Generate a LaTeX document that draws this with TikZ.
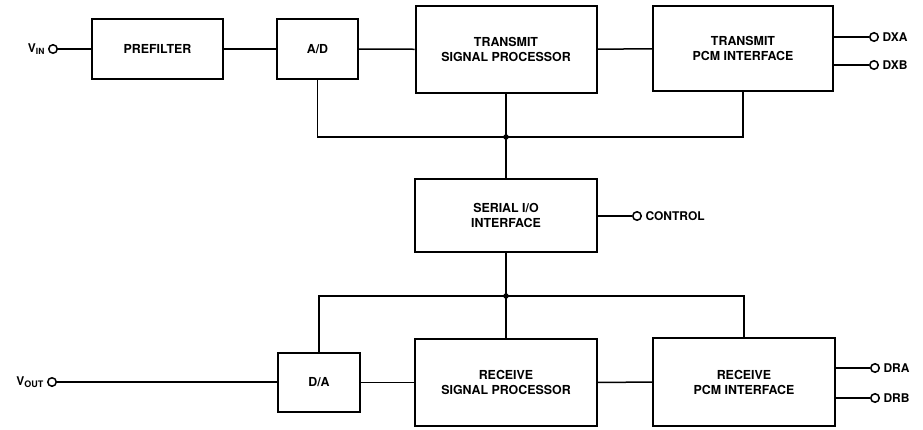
\documentclass[tikz,border=0pt]{standalone}
\usepackage{fontspec}
\setmainfont{TeX Gyre Heros}
\usetikzlibrary{positioning}

\begin{document}
\begin{tikzpicture}[x=1pt,y=-1pt,
  blk/.style={draw, line width=2pt, rectangle, inner sep=0pt, align=center,
    font=\fontsize{12.4}{15}\selectfont\bfseries},
  pin/.style={draw, circle, line width=1.5pt, fill=white, inner sep=0pt, minimum size=8.5pt,
    label distance=6pt},
  pinlbl/.style={font=\fontsize{12}{14}\selectfont\bfseries},
  wire/.style={line width=1.5pt},
  dot/.style={fill, circle, inner sep=0pt, minimum size=5.5pt}]
\useasboundingbox (0,0) rectangle (923,430);
\node[blk, minimum width=131pt, minimum height=60pt] (pre) at (157.5,49) {PREFILTER};
\node[blk, minimum width=81pt, minimum height=60pt] (ad) at (317.5,49) {A/D};
\node[blk, minimum width=181pt, minimum height=87pt] (tsp) at (506,49.5) {TRANSMIT\\SIGNAL PROCESSOR};
\node[blk, minimum width=180pt, minimum height=85pt] (tpcm) at (743,48.5) {TRANSMIT\\PCM INTERFACE};
\node[blk, minimum width=182pt, minimum height=73pt] (sio) at (506,215.5) {SERIAL I/O\\INTERFACE};
\node[blk, minimum width=82pt, minimum height=59pt] (da) at (319,382.5) {D/A};
\node[blk, minimum width=182pt, minimum height=87pt] (rsp) at (506,382.5) {RECEIVE\\SIGNAL PROCESSOR};
\node[blk, minimum width=182pt, minimum height=88pt] (rpcm) at (744,382) {RECEIVE\\PCM INTERFACE};
\node[pin, label={[pinlbl]left:V\raisebox{-0.35ex}{\fontsize{8.5}{8}\selectfont IN}}] (vin) at (53,49) {};
\node[pin, label={[pinlbl]left:V\raisebox{-0.35ex}{\fontsize{9}{8}\selectfont OUT}}] (vout) at (52,382) {};
\node[pin, label={[pinlbl]right:DXA}] (dxa) at (874,37) {};
\node[pin, label={[pinlbl]right:DXB}] (dxb) at (874,65) {};
\node[pin, label={[pinlbl]right:CONTROL}] (ctl) at (637,216) {};
\node[pin, label={[pinlbl]right:DRA}] (dra) at (875,368) {};
\node[pin, label={[pinlbl]right:DRB}] (drb) at (875,398) {};
\coordinate (jt) at (506,137);
\coordinate (jb) at (506,296);
\draw[wire] (vin) -- (pre);
\draw[wire] (pre) -- (ad);
\draw[wire] (ad) -- (tsp);
\draw[wire] (tsp) -- (tpcm);
\draw[wire] (tpcm.east |- dxa) -- (dxa);
\draw[wire] (tpcm.east |- dxb) -- (dxb);
\draw[wire] (ad.south) |- (jt) -| (tpcm.south);
\draw[wire] (tsp.south) -- (sio.north);
\draw[wire] (sio.east |- ctl) -- (ctl);
\draw[wire] (da.north) |- (jb) -| (rpcm.north);
\draw[wire] (sio.south) -- (rsp.north);
\draw[wire] (vout) -- (da.west |- vout);
\draw[wire] (da) -- (rsp);
\draw[wire] (rsp) -- (rpcm);
\draw[wire] (rpcm.east |- dra) -- (dra);
\draw[wire] (rpcm.east |- drb) -- (drb);
\node[dot] at (jt) {};
\node[dot] at (jb) {};
\end{tikzpicture}
\end{document}
